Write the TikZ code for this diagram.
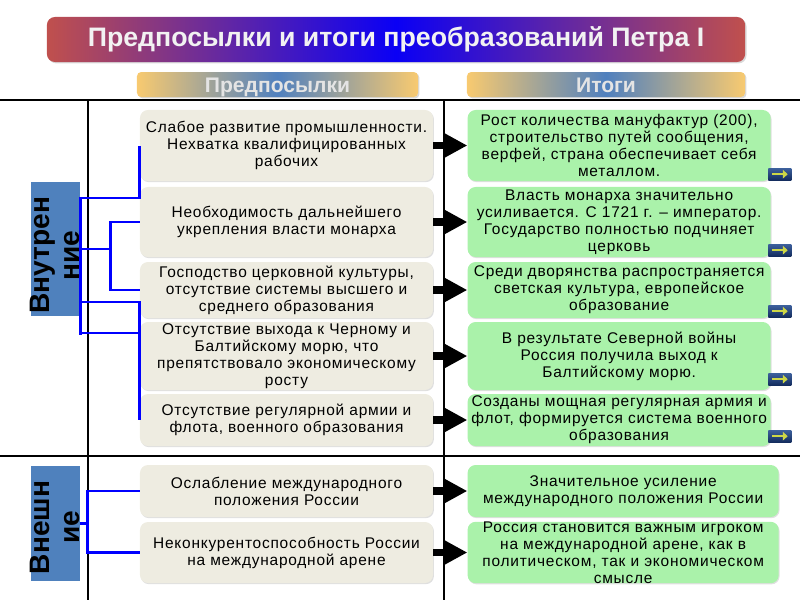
\documentclass[tikz,border=0pt]{standalone}
\usepackage{fontspec}
\setmainfont{Liberation Sans}
\newfontfamily\boxfont{Liberation Sans}[LetterSpace=5]
\usetikzlibrary{arrows.meta,positioning,calc,shadows}

\definecolor{causefill}{RGB}{238,236,225}
\definecolor{resfill}{RGB}{170,242,170}
\definecolor{titleedge}{RGB}{192,80,77}
\definecolor{titlemid}{RGB}{10,0,245}
\definecolor{titletext}{RGB}{242,242,242}
\definecolor{headedge}{RGB}{248,202,112}
\definecolor{headmid}{RGB}{80,128,190}
\definecolor{headtext}{RGB}{228,228,228}
\definecolor{sidefill}{RGB}{79,129,189}
\definecolor{btntop}{RGB}{60,95,155}
\definecolor{btnbottom}{RGB}{20,45,95}
\definecolor{btnarrow}{RGB}{205,215,70}

% rotated two-line side label, #3 moves it down the page
\newcommand{\sidetext}[3]{\rotatebox{90}{\begin{tabular}{@{}c@{\hspace{#3}}}\rule{0pt}{19pt}#1\\#2\end{tabular}}}

\begin{document}
\begin{tikzpicture}[
    x=0.025cm, y=-0.025cm,
    titlebar/.style={rectangle, rounded corners=0.2cm, minimum width=17.45cm, minimum height=1.125cm, left color=titleedge, right color=titleedge, middle color=titlemid, text=titletext, font=\bfseries\fontsize{19}{21}\selectfont, drop shadow={opacity=0.3, shadow xshift=1pt, shadow yshift=-1pt}},
    head/.style={rectangle, rounded corners=3pt, minimum height=0.625cm, inner sep=0pt, text height=11pt, text depth=0pt, left color=headedge, right color=headedge, middle color=headmid, text=headtext, font=\bfseries\fontsize{15}{16}\selectfont, drop shadow={opacity=0.3, shadow xshift=1pt, shadow yshift=-1pt}},
    side/.style={rectangle, fill=sidefill, minimum width=1.225cm, inner sep=0pt, font=\bfseries\fontsize{20}{21}\selectfont},
    cause/.style={rectangle, rounded corners=0.2cm, fill=causefill, minimum width=7.325cm, align=center, inner xsep=2pt, inner ysep=0pt, font=\boxfont\fontsize{11}{12}\selectfont, drop shadow={opacity=0.25, shadow xshift=0.6pt, shadow yshift=-0.8pt}},
    result/.style={cause, fill=resfill, minimum width=7.575cm},
    grid/.style={draw=black, line width=1.4pt},
    link/.style={draw=blue, line width=2pt},
    flow/.style={-{Triangle[length=0.58cm,width=0.58cm]}, line width=5pt, draw=black},
    btn/.style={rectangle, minimum width=0.575cm, minimum height=0.29cm, inner sep=0pt, top color=btntop, bottom color=btnbottom,
        path picture={\draw[btnarrow, line width=1.5pt, -{Triangle[length=3.5pt,width=6pt]}] ([xshift=2.5pt]path picture bounding box.west) -- ([xshift=-2.5pt]path picture bounding box.east);}}
]
    \useasboundingbox (0,0) rectangle (800,600);

    % table lines
    \draw[grid] (0,100) -- (800,100);
    \draw[grid] (0,456) -- (800,456);
    \draw[grid] (88,100) -- (88,600);
    \draw[grid] (444,100) -- (444,600);

    % headings
    \node[titlebar] (title) at (396,39.5) {Предпосылки и итоги преобразований Петра I};
    \node[head, minimum width=7.025cm] (hcause) at (277.5,84.5) {Предпосылки};
    \node[head, minimum width=6.95cm] (hres) at (606,84.5) {Итоги};

    % side labels
    \node[side, minimum height=3.35cm] (vin) at (55.5,249) {\makebox[0pt]{\sidetext{Внутрен}{ние}{9pt}}};
    \node[side, minimum height=2.875cm] (vext) at (55.5,523.5) {\makebox[0pt]{\sidetext{Внешн}{ие}{5.5pt}}};

    % causes
    \node[cause, minimum height=1.775cm] (l1) at (286.5,145.5) {Слабое развитие промышленности.\\Нехватка квалифицированных\\рабочих};
    \node[cause, minimum height=1.75cm] (l2) at (286.5,222) {Необходимость дальнейшего\\укрепления власти монарха};
    \node[cause, minimum height=1.4cm] (l3) at (286.5,290) {Господство церковной культуры,\\отсутствие системы высшего и\\среднего образования};
    \node[cause, minimum height=1.7cm] (l4) at (286.5,356) {Отсутствие выхода к Черному и\\Балтийскому морю, что\\препятствовало экономическому\\росту};
    \node[cause, minimum height=1.3cm] (l5) at (286.5,420) {Отсутствие регулярной армии и\\флота, военного образования};
    \node[cause, minimum height=1.3cm] (l6) at (286.5,491) {Ослабление международного\\положения  России};
    \node[cause, minimum height=1.525cm] (l7) at (286.5,552.5) {Неконкурентоспособность России\\на международной арене};

    % results
    \node[result, minimum height=1.775cm, right=0.85cm of l1] (r1) {Рост количества мануфактур (200),\\строительство путей сообщения,\\верфей, страна обеспечивает себя\\металлом.};
    \node[result, minimum height=1.75cm, right=0.85cm of l2] (r2) {Власть монарха значительно\\усиливается. С 1721 г. – император.\\Государство полностью подчиняет\\церковь};
    \node[result, minimum height=1.4cm, right=0.85cm of l3] (r3) {Среди дворянства распространяется\\светская культура, европейское\\образование};
    \node[result, minimum height=1.7cm, right=0.85cm of l4] (r4) {В результате Северной войны\\Россия получила выход к\\Балтийскому морю.};
    \node[result, minimum height=1.3cm, right=0.85cm of l5] (r5) {Созданы мощная регулярная армия и\\флот, формируется система военного\\образования};
    \node[result, minimum height=1.3cm, minimum width=7.775cm, right=0.85cm of l6] (r6) {Значительное усиление\\международного положения России};
    \node[result, minimum height=1.525cm, minimum width=7.775cm, right=0.85cm of l7] (r7) {Россия становится важным игроком\\на международной арене, как в\\политическом, так и экономическом\\смысле};

    % buttons
    \node[btn, anchor=south west] (b1) at ($(r1.south east)+(-3,-1)$) {};
    \node[btn, anchor=south west] (b2) at ($(r2.south east)+(-3,-1)$) {};
    \node[btn, anchor=south west] (b3) at ($(r3.south east)+(-3,-1)$) {};
    \node[btn, anchor=south west] (b4) at ($(r4.south east)+(-3,-5)$) {};
    \node[btn, anchor=south west] (b5) at ($(r5.south east)+(-3,-4)$) {};

    % blue links
    \coordinate (jin) at ($(vin.east)+(30,0)$);
    \coordinate (jext) at ($(vext.east)+(7,0)$);
    \draw[link] ($(vin.east)+(0,-52)$) -- ($(vin.east)+(0,86)$);
    \draw[link] ($(vin.east)+(0,-51)$) -| (l1.west);
    \draw[link] (vin.east) -- (jin);
    \draw[link] (l2.west) -| (jin) |- (l3.west);
    \draw[link] ($(vin.east)+(0,53)$) -| (l5.west);
    \draw[link] ($(vin.east)+(0,84)$) -- ($(l4.west)+(0,-23)$);
    \draw[link] (vext.east) -- (jext);
    \draw[link] (l6.west) -| (jext) |- (l7.west);

    % arrows
    \draw[flow] (l1) -- (r1);
    \draw[flow] (l2) -- (r2);
    \draw[flow] (l3) -- (r3);
    \draw[flow] (l4) -- (r4);
    \draw[flow] (l5) -- (r5);
    \draw[flow] (l6) -- (r6);
    \draw[flow] (l7) -- (r7);
\end{tikzpicture}
\end{document}
